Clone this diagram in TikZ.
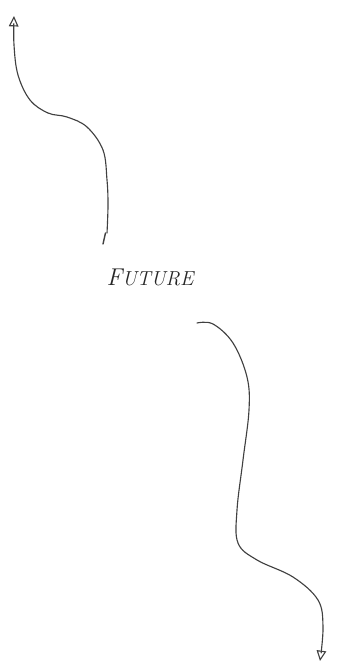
\documentclass[tikz,border=0pt]{standalone}
\usepackage{tikz}
\usetikzlibrary{arrows.meta,positioning}

\begin{document}
\begin{tikzpicture}[
        x=0.025cm,
        y=-0.025cm,
        timeline/.style={black!75, line width=0.8pt, line cap=round},
        tip/.style={-{Triangle[open, length=2.6mm, width=2.4mm]}},
        label/.style={font=\itshape, text=black!85}
    ]
        \useasboundingbox (0,0) rectangle (338,670);

        % Label between the two strands.
        \node[label] (future) at (150,277) {\LARGE F\Large UTURE};

        % Upper strand, running back up to the top left.
        \coordinate (pastend) at (107,233);
        \coordinate (tickend) at (103,244);
        \draw[timeline,tip] plot[smooth, tension=0.6] coordinates {
            (pastend) (108,205) (107,180) (103,150) (87,127) (67,117)
            (48,113) (30,100) (18,75) (14,45) (14,16)};
        \draw[timeline, line width=1pt] (105.5,233) -- (tickend);

        % Lower strand, running down to the bottom right.
        \coordinate (futurestart) at (197,323);
        \draw[timeline,tip] plot[smooth, tension=0.6] coordinates {
            (futurestart) (213,324) (233,343) (247,377) (249,410) (243,460)
            (237,510) (238,543) (257,560) (293,577) (318,600) (323,627)
            (320,661)};
    \end{tikzpicture}
\end{document}
